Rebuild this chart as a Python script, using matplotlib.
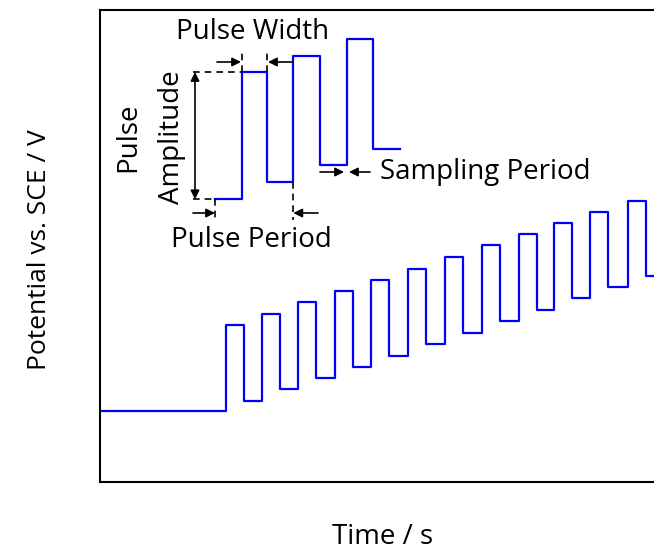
import matplotlib.pyplot as plt

plt.rcParams['font.family'] = ['Open Sans', 'DejaVu Sans']

# staircase waveform: edge times and potential levels
base_level = 7.1
rise_t = [12.6, 16.2, 19.8, 23.5, 27.1, 30.8, 34.5, 38.2, 41.9, 45.4, 49.0, 52.8]
fall_t = [14.4, 18.0, 21.6, 25.3, 28.9, 32.6, 36.3, 40.0, 43.7, 47.2, 50.8, 54.6]
top_E = [15.7, 16.8, 18.0, 19.1, 20.2, 21.3, 22.5, 23.7, 24.8, 25.9, 27.0, 28.1]
bot_E = [8.1, 9.3, 10.4, 11.5, 12.6, 13.8, 14.9, 16.1, 17.2, 18.4, 19.5, 20.6]
t_end = 56.0

# enlarged sketch of a few pulses
zoom_t = [11.5, 14.17, 16.73, 19.33, 22.0, 24.67, 27.33, 30.0]
zoom_E = [28.27, 41.0, 30.0, 42.6, 31.67, 44.27, 33.3, 33.3]

t = [0.0]
E = [base_level]
for r, f, hi, lo in zip(rise_t, fall_t, top_E, bot_E):
    t += [r, f]
    E += [hi, lo]
t.append(t_end)
E.append(bot_E[-1])

fig = plt.figure(figsize=(6.54, 5.5), dpi=100)
ax = fig.add_axes([100/654, 68/550, 600/654, 472/550])
ax.set_xlim(0, 60)
ax.set_ylim(0, 47.2)
ax.set_xticks([])
ax.set_yticks([])
for s in ax.spines.values():
    s.set_linewidth(1.5)

ax.plot(t, E, drawstyle='steps-post', color='#0000ff', lw=1.6)
ax.plot(zoom_t, zoom_E, drawstyle='steps-post', color='#0000ff', lw=1.6)

arr = dict(arrowstyle='-|>', color='k', lw=1.2, mutation_scale=13, shrinkA=0, shrinkB=0)
dash = dict(color='k', lw=1.2, ls=(0, (4, 3)))
fs = 20

# pulse width
ax.plot([14.17, 14.17], [41.0, 43.0], **dash)
ax.plot([16.73, 16.73], [41.0, 43.0], **dash)
ax.annotate('', xy=(14.1, 42.0), xytext=(11.7, 42.0), arrowprops=arr)
ax.annotate('', xy=(16.8, 42.0), xytext=(19.3, 42.0), arrowprops=arr)
ax.text(15.3, 45.0, 'Pulse Width', fontsize=fs, ha='center', va='center')

# pulse amplitude
ax.plot([9.3, 14.17], [41.0, 41.0], **dash)
ax.plot([9.3, 11.5], [28.27, 28.27], **dash)
ax.annotate('', xy=(9.5, 41.0), xytext=(9.5, 28.27),
            arrowprops=dict(arr, arrowstyle='<|-|>'))
ax.text(2.8, 34.5, 'Pulse', fontsize=fs, rotation=90, ha='center', va='center')
ax.text(7.2, 34.5, 'Amplitude', fontsize=fs, rotation=90, ha='center', va='center')

# pulse period
ax.plot([11.5, 11.5], [28.27, 26.2], **dash)
ax.plot([19.33, 19.33], [30.0, 26.2], **dash)
ax.annotate('', xy=(11.5, 26.9), xytext=(9.3, 26.9), arrowprops=arr)
ax.annotate('', xy=(19.33, 26.9), xytext=(21.8, 26.9), arrowprops=arr)
ax.text(15.17, 24.2, 'Pulse Period', fontsize=fs, ha='center', va='center')

# sampling period
ax.annotate('', xy=(24.4, 31.0), xytext=(22.0, 31.0), arrowprops=arr)
ax.annotate('', xy=(24.9, 31.0), xytext=(27.0, 31.0), arrowprops=arr)
ax.text(28.0, 31.0, 'Sampling Period', fontsize=fs, ha='left', va='center')

fig.text(40/654, 1 - 250/550, 'Potential vs. SCE / V', fontsize=19, rotation=90,
         ha='center', va='center')
fig.text(383/654, 1 - 537/550, 'Time / s', fontsize=fs, ha='center', va='center')

fig.savefig('out.png', dpi=100)
